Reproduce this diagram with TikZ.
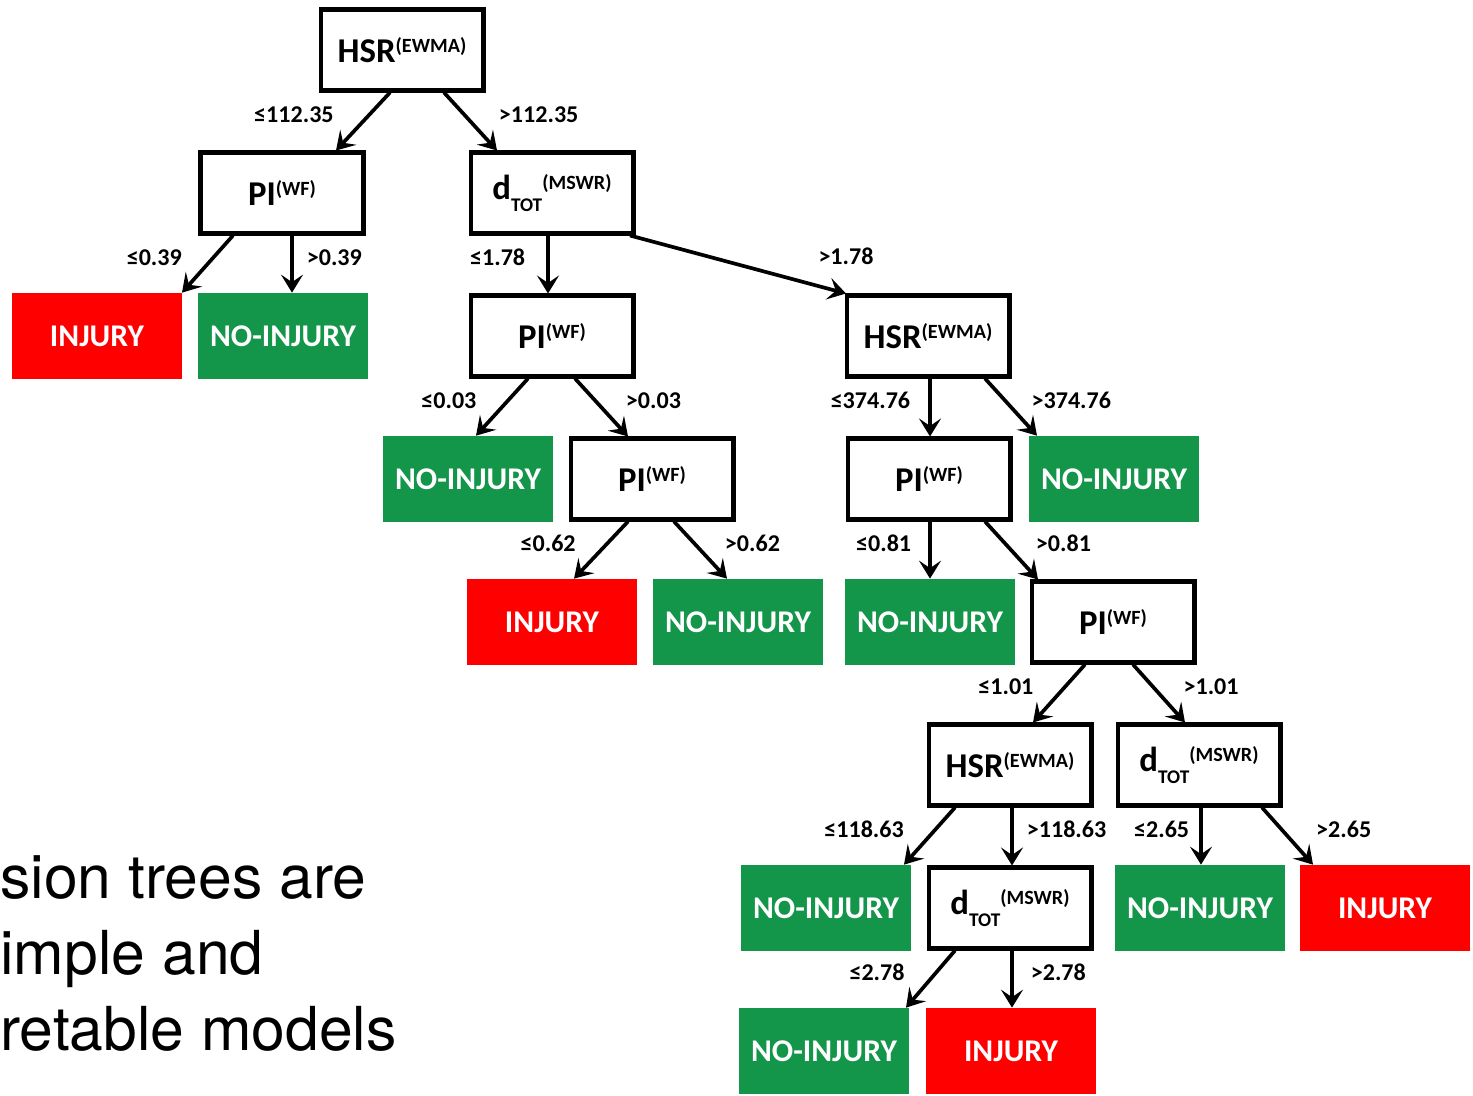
\documentclass[tikz,border=0pt]{standalone}
\usepackage{fontspec}
\setmainfont{Carlito}
\newfontfamily\blurbfont{TeX Gyre Heros}
\usetikzlibrary{arrows.meta,positioning,calc}
\definecolor{injred}{HTML}{FF0000}
\definecolor{okgreen}{HTML}{13954A}
\newcommand\supt[1]{\raisebox{5.7pt}{\fontsize{11.5}{12}\selectfont #1}}
\newcommand\subt[1]{\raisebox{-6.8pt}{\fontsize{11}{12}\selectfont #1}}
\tikzset{test/.style={draw,line width=2.3pt,fill=white,minimum width=3.26cm,minimum height=1.62cm,inner sep=0pt,font=\fontsize{19.8}{22}\selectfont\bfseries}, leafbox/.style={minimum width=3.4cm,minimum height=1.72cm,inner sep=0pt,text=white,font=\fontsize{18}{20}\selectfont\bfseries}, inj/.style={leafbox,fill=injred}, noinj/.style={leafbox,fill=okgreen}, arr/.style={-{Stealth[length=3.6mm,width=4.4mm,inset=1.5mm]},line width=2.1pt}, cut/.style={inner sep=0pt,pos=.38,font=\fontsize{13.7}{15}\selectfont\bfseries}, le/.style={cut,left=#1}, le/.default=.6cm, ri/.style={cut,right=#1}, ri/.default=.58cm, blurb/.style={inner sep=0pt,anchor=base west,font=\blurbfont\fontsize{34.5}{42}\selectfont}}

\begin{document}
\begin{tikzpicture}[x=.02cm,y=-.02cm]
\useasboundingbox (0,0) rectangle (1473,1095);
% splits
\node[test] (root) at (402,50) {HSR\supt{(EWMA)}};
\node[test] (pi1) at (282,193) {PI\supt{(WF)}};
\node[test] (dt1) at (552,193) {d\subt{TOT}\supt{(MSWR)}};
\node[test] (pi2) at (552,336) {PI\supt{(WF)}};
\node[test] (hsr2) at (928,336) {HSR\supt{(EWMA)}};
\node[test] (pi3) at (652,479) {PI\supt{(WF)}};
\node[test] (pi4) at (929,479) {PI\supt{(WF)}};
\node[test] (pi5) at (1113,622) {PI\supt{(WF)}};
\node[test] (hsr3) at (1010,765) {HSR\supt{(EWMA)}};
\node[test] (dt2) at (1199,765) {d\subt{TOT}\supt{(MSWR)}};
\node[test] (dt3) at (1010,908) {d\subt{TOT}\supt{(MSWR)}};
% leaves
\node[inj] (inj1) at (97,336) {INJURY};
\node[noinj] (no1) at (283,336) {NO-INJURY};
\node[noinj] (no2) at (468,479) {NO-INJURY};
\node[noinj] (no3) at (1114,479) {NO-INJURY};
\node[inj] (inj2) at (552,622) {INJURY};
\node[noinj] (no4) at (738,622) {NO-INJURY};
\node[noinj] (no5) at (930,622) {NO-INJURY};
\node[noinj] (no6) at (826,908) {NO-INJURY};
\node[noinj] (no7) at (1200,908) {NO-INJURY};
\node[inj] (inj3) at (1385,908) {INJURY};
\node[noinj] (no8) at (824,1051) {NO-INJURY};
\node[inj] (inj4) at (1011,1051) {INJURY};
% branches
\draw[arr] ($(root.south)+(-12,0)$) -- node[le=.68cm]{≤112.35} ($(pi1.north)+(54,0)$);
\draw[arr] ($(root.south)+(42,0)$) -- node[ri=.66cm]{>112.35} ($(dt1.north)+(-55,0)$);
\draw[arr] ($(pi1.south)+(-49,0)$) -- node[le]{≤0.39} ($(inj1.north)+(85,0)$);
\draw[arr] ($(pi1.south)+(10,0)$) -- node[ri=.26cm]{>0.39} ($(no1.north)+(9,0)$);
\draw[arr] ($(dt1.south)+(-4,0)$) -- node[le=.42cm]{≤1.78} ($(pi2.north)+(-4,0)$);
\draw[arr] ($(dt1.south)+(78,0)$) -- node[cut,pos=1,above=.54cm]{>1.78} ($(hsr2.north)+(-82,0)$);
\draw[arr] ($(pi2.south)+(-24,0)$) -- node[le]{≤0.03} ($(no2.north)+(8,0)$);
\draw[arr] ($(pi2.south)+(23,0)$) -- node[ri]{>0.03} ($(pi3.north)+(-24,0)$);
\draw[arr] ($(hsr2.south)+(2,0)$) -- node[le=.36cm]{≤374.76} ($(pi4.north)+(1,0)$);
\draw[arr] ($(hsr2.south)+(57,0)$) -- node[ri=.5cm]{>374.76} ($(no3.north)+(-77,0)$);
\draw[arr] ($(pi3.south)+(-24,0)$) -- node[le]{≤0.62} ($(inj2.north)+(22,0)$);
\draw[arr] ($(pi3.south)+(22,0)$) -- node[ri]{>0.62} ($(no4.north)+(-11,0)$);
\draw[arr] ($(pi4.south)+(1,0)$) -- node[le=.34cm]{≤0.81} ($(no5.north)+(0,0)$);
\draw[arr] ($(pi4.south)+(56,0)$) -- node[ri]{>0.81} ($(pi5.north)+(-75,0)$);
\draw[arr] ($(pi5.south)+(-28,0)$) -- node[le]{≤1.01} ($(hsr3.north)+(23,0)$);
\draw[arr] ($(pi5.south)+(20,0)$) -- node[ri]{>1.01} ($(dt2.north)+(-14,0)$);
\draw[arr] ($(hsr3.south)+(-55,0)$) -- node[le]{≤118.63} ($(no6.north)+(78,0)$);
\draw[arr] ($(hsr3.south)+(2,0)$) -- node[ri=.26cm]{>118.63} ($(dt3.north)+(2,0)$);
\draw[arr] ($(dt2.south)+(2,0)$) -- node[le=.2cm]{≤2.65} ($(no7.north)+(1,0)$);
\draw[arr] ($(dt2.south)+(63,0)$) -- node[ri=.66cm]{>2.65} ($(inj3.north)+(-72,0)$);
\draw[arr] ($(dt3.south)+(-55,0)$) -- node[le]{≤2.78} ($(no8.north)+(82,0)$);
\draw[arr] ($(dt3.south)+(2,0)$) -- node[ri=.34cm]{>2.78} ($(inj4.north)+(1,0)$);
% side text
\foreach \n/\t/\y in {1/sion trees are/898,2/imple and/974,3/retable models/1050}
  \node[blurb] (line\n) at (0,\y) {\t};
\end{tikzpicture}
\end{document}
